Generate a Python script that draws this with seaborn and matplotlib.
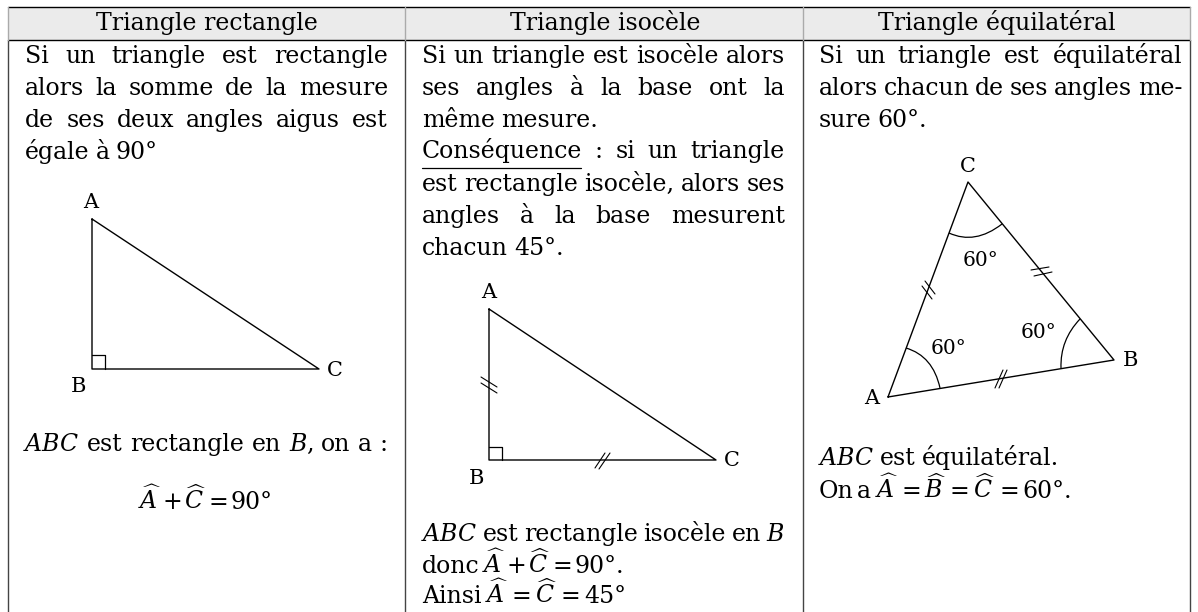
import matplotlib
matplotlib.use("Agg")
import matplotlib.pyplot as plt
from matplotlib.patches import PathPatch, Rectangle
from matplotlib.path import Path
import seaborn as sns

sns.set_theme(style="white")
plt.rcParams['font.family'] = ['DejaVu Serif']
plt.rcParams['mathtext.fontset'] = 'dejavuserif'

FONT = 17
LABEL = 15
ANGLE = 14.5

headers = ["Triangle rectangle", "Triangle isocèle", "Triangle équilatéral"]
header_x = [207, 605, 997]
col_lines = [8, 405, 803, 1190]

# (text, left, right or None when not justified, baseline)
col1_text = [
    ("Si un triangle est rectangle", 25, 388, 63),
    ("alors la somme de la mesure", 25, 388, 95),
    ("de ses deux angles aigus est", 25, 388, 127),
    ("égale à 90°", 25, None, 159),
    ("$ABC$ est rectangle en $B$, on a :", 23, 388, 451),
    (r"$\widehat{A}$ + $\widehat{C}$ = 90°", 138, 272, 509),
]
col2_text = [
    ("Si un triangle est isocèle alors", 422, 785, 63),
    ("ses angles à la base ont la", 422, 785, 95),
    ("même mesure.", 422, None, 127),
    ("Conséquence : si un triangle", 422, 785, 158),
    ("est rectangle isocèle, alors ses", 422, 785, 191),
    ("angles à la base mesurent", 422, 785, 223),
    ("chacun 45°.", 422, None, 255),
    ("$ABC$ est rectangle isocèle en $B$", 421, 785, 541),
    (r"donc $\widehat{A}$ + $\widehat{C}$ = 90°.", 422, 624, 573),
    (r"Ainsi $\widehat{A}$ = $\widehat{C}$ = 45°", 422, 626, 603),
]
col3_text = [
    ("Si un triangle est équilatéral", 819, 1182, 63),
    ("alors chacun de ses angles me-", 819, 1182, 95),
    ("sure 60°.", 819, None, 127),
    ("$ABC$ est équilatéral.", 818, None, 465),
    (r"On a $\widehat{A}$ = $\widehat{B}$ = $\widehat{C}$ = 60°.", 819, 1072, 498),
]

# triangles, closed
tri1_x = [92, 92, 319, 92]
tri1_y = [219, 369, 369, 219]
tri2_x = [489, 489, 716, 489]
tri2_y = [309, 460, 460, 309]
tri3_x = [888, 1114, 968, 888]
tri3_y = [397, 360, 182, 397]

right_angles = [([92, 105, 105], [355, 355, 369]), ([489, 502, 502], [447, 447, 460])]

tick_marks = [
    ((481, 377), (497, 387)), ((481, 383), (497, 393)),
    ((595, 468), (605, 453)), ((599, 469), (610, 453)),
    ((922, 286), (932, 299)), ((925, 281), (935, 294)),
    ((1031, 270), (1049, 267)), ((1034, 276), (1052, 272)),
    ((995, 388), (1003, 370)), ((999, 388), (1007, 370)),
]

# start, control, end
arcs = [
    ((906, 348), (933, 356), (940, 388)),
    ((949, 233), (975, 245), (1002, 224)),
    ((1061, 368), (1060, 340), (1080, 319)),
]

point_labels = [
    ("A", 91, 203), ("B", 78, 386), ("C", 335, 370),
    ("A", 489, 293), ("B", 476, 478), ("C", 732, 461),
    ("C", 968, 166), ("A", 872, 398), ("B", 1130, 360),
]
angle_labels = [("60°", 981, 261), ("60°", 948, 348), ("60°", 1038, 332)]

fig, ax = plt.subplots(figsize=(11.98, 6.12), dpi=100)
ax.set_position([0, 0, 1, 1])
ax.set_xlim(0, 1198)
ax.set_ylim(612, 0)
ax.axis("off")
renderer = fig.canvas.get_renderer()

# header band and table rules
ax.add_patch(Rectangle((8, 7), 1182, 33, fc="#ebebeb", ec="none"))
ax.plot([8, 1190], [7, 7], color="black", lw=1)
ax.plot([8, 1190], [40, 40], color="black", lw=1)
for x in col_lines:
    ax.plot([x, x], [40, 612], color="#444444", lw=1)
    ax.plot([x, x], [7, 40], color="#aaaaaa", lw=1)
for t, x in zip(headers, header_x):
    ax.text(x, 30, t, ha="center", va="baseline", fontsize=FONT, color="black")


def width_of(artist):
    return artist.get_window_extent(renderer).width


def draw_line(text, left, right, y):
    words = text.split(" ")
    arts = [ax.text(left, y, w, ha="left", va="baseline", fontsize=FONT, color="black") for w in words]
    widths = [width_of(a) for a in arts]
    if right is None or len(words) == 1:
        gap = FONT * 0.36
    else:
        gap = (right - left - sum(widths)) / (len(words) - 1)
    x = left
    for a, w in zip(arts, widths):
        a.set_x(x)
        x += w + gap


for col in [col1_text, col2_text, col3_text]:
    for text, left, right, y in col:
        draw_line(text, left, right, y)

# underline of Conséquence
ax.plot([422, 581], [168, 168], color="black", lw=0.9)

# triangles
for xs, ys in [(tri1_x, tri1_y), (tri2_x, tri2_y), (tri3_x, tri3_y)]:
    sns.lineplot(x=xs, y=ys, sort=False, estimator=None, color="black", lw=1.0, ax=ax)
for xs, ys in right_angles:
    sns.lineplot(x=xs, y=ys, sort=False, estimator=None, color="black", lw=0.9, ax=ax)
for p, q in tick_marks:
    ax.plot([p[0], q[0]], [p[1], q[1]], color="black", lw=0.8)
for s, c, e in arcs:
    ax.add_patch(PathPatch(Path([s, c, e], [Path.MOVETO, Path.CURVE3, Path.CURVE3]),
                           fc="none", ec="black", lw=0.9))

for t, x, y in point_labels:
    ax.text(x, y, t, ha="center", va="center", fontsize=LABEL, color="black")
for t, x, y in angle_labels:
    ax.text(x, y, t, ha="center", va="center", fontsize=ANGLE, color="black")

ax.set_xlim(0, 1198)
ax.set_ylim(612, 0)
fig.savefig("out.png", dpi=100)
